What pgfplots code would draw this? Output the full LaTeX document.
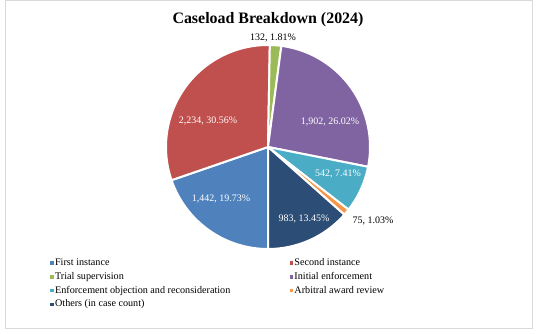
\documentclass[border=0pt]{standalone}
\usepackage{fontspec}
\setmainfont{Liberation Serif}
\usepackage{pgfplots}
\usepackage{pgfplotstable}
\pgfplotsset{compat=1.18}
\definecolor{cFirst}{HTML}{4F81BD}
\definecolor{cSecond}{HTML}{C0504D}
\definecolor{cTrial}{HTML}{9BBB59}
\definecolor{cInit}{HTML}{8064A2}
\definecolor{cObj}{HTML}{4BACC6}
\definecolor{cArb}{HTML}{F79646}
\definecolor{cOther}{HTML}{2C4D75}
\definecolor{cBorder}{HTML}{D9D9D9}

\pgfplotstableread{
key value
First 1442
Second 2234
Trial 132
Initial 1902
Objection 542
Arbitral 75
Others 983
}\casedata

\newcommand{\getv}[2]{\pgfplotstablegetelem{#1}{value}\of\casedata\let#2\pgfplotsretval}
\newcommand{\slice}[3]{%
  \addplot[fill=#1, draw=white, line width=2bp, line join=round, domain={#3:#2}, samples=80, variable=\t, forget plot]
    ({268+102*cos(\t)},{187+102*sin(\t)}) -- (axis cs:268,187) -- cycle;}

\begin{document}
\begin{tikzpicture}
\getv{0}\vA \getv{1}\vB \getv{2}\vC \getv{3}\vD \getv{4}\vE \getv{5}\vF \getv{6}\vG
\pgfmathsetmacro\tot{\vA+\vB+\vC+\vD+\vE+\vF+\vG}
\pgfmathsetmacro\sA{270}
\pgfmathsetmacro\sB{\sA-360*(\vA/\tot)}
\pgfmathsetmacro\sC{\sB-360*(\vB/\tot)}
\pgfmathsetmacro\sD{\sC-360*(\vC/\tot)}
\pgfmathsetmacro\sE{\sD-360*(\vD/\tot)}
\pgfmathsetmacro\sF{\sE-360*(\vE/\tot)}
\pgfmathsetmacro\sG{\sF-360*(\vF/\tot)}
\pgfmathsetmacro\sH{\sG-360*(\vG/\tot)}
\begin{axis}[
  scale only axis, width=537bp, height=334bp,
  xmin=0, xmax=537, ymin=0, ymax=334,
  hide axis, clip=false,
  legend image code/.code={\fill[#1, draw=none] (0bp,-1.7bp) rectangle (3.4bp,1.7bp);},
  legend columns=2,
  legend cell align=left,
  legend style={at={(axis cs:47,78)}, anchor=north west, draw=none, fill=none,
    font=\fontsize{10.2}{12}\selectfont, row sep=3.7bp,
    nodes={inner ysep=0pt, inner xsep=1.5bp, text height=7.5bp, text depth=2.5bp}},
]
\path (axis cs:0,0) rectangle (axis cs:537,334);
\draw[cBorder, line width=1bp] (axis cs:5,5) rectangle (axis cs:532,333);
\slice{cFirst}{\sA}{\sB}
\slice{cSecond}{\sB}{\sC}
\slice{cTrial}{\sC}{\sD}
\slice{cInit}{\sD}{\sE}
\slice{cObj}{\sE}{\sF}
\slice{cArb}{\sF}{\sG}
\slice{cOther}{\sG}{\sH}
\addlegendimage{fill=cFirst}\addlegendentry{\makebox[233bp][l]{First instance}}
\addlegendimage{fill=cSecond}\addlegendentry{Second instance}
\addlegendimage{fill=cTrial}\addlegendentry{Trial supervision}
\addlegendimage{fill=cInit}\addlegendentry{Initial enforcement}
\addlegendimage{fill=cObj}\addlegendentry{Enforcement objection and reconsideration}
\addlegendimage{fill=cArb}\addlegendentry{Arbitral award review}
\addlegendimage{fill=cOther}\addlegendentry{Others (in case count)}
\node[font=\fontsize{16}{19}\selectfont\bfseries] at (axis cs:268,314) {Caseload Breakdown (2024)};
\begin{scope}[font=\fontsize{10}{12}\selectfont]
\node at (axis cs:273,296) {132, 1.81\%};
\node[white] at (axis cs:208,213) {2,234, 30.56\%};
\node[white] at (axis cs:330,212) {1,902, 26.02\%};
\node[white] at (axis cs:338,160) {542, 7.41\%};
\node[white] at (axis cs:221,135) {1,442, 19.73\%};
\node[white] at (axis cs:304,115) {983, 13.45\%};
\node at (axis cs:373,113) {75, 1.03\%};
\end{scope}
\end{axis}
\end{tikzpicture}
\end{document}
